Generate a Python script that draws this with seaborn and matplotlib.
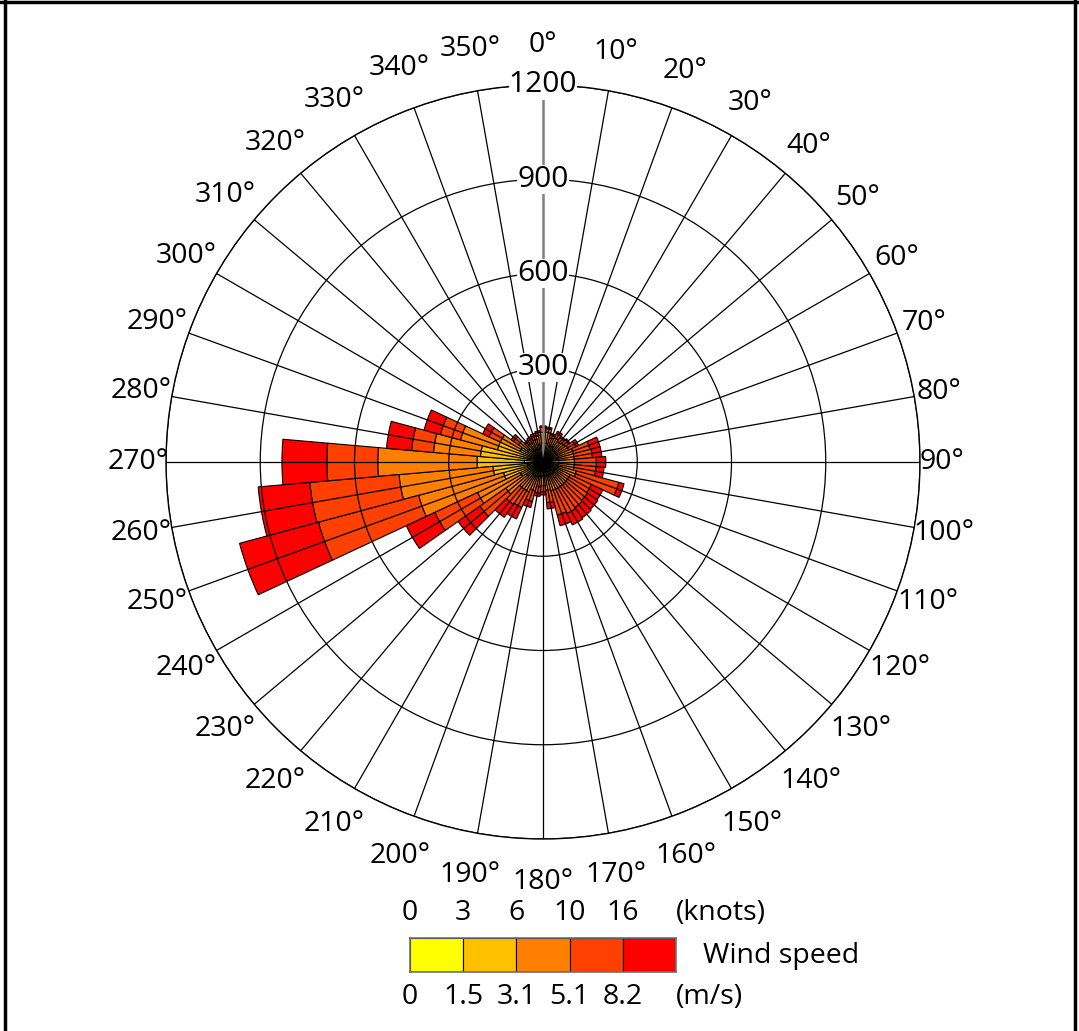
import numpy as np
import pandas as pd
import seaborn as sns
import matplotlib
matplotlib.use("Agg")
import matplotlib.pyplot as plt
from matplotlib.lines import Line2D

# ---------------- data ----------------
directions = list(range(0, 360, 10))
speed_bins = ["0-1.5", "1.5-3.1", "3.1-5.1", "5.1-8.2", ">8.2"]
bin_colors = ["#FFFF00", "#FFC000", "#FF8000", "#FF4000", "#FF0000"]
knots_labels = ["0", "3", "6", "10", "16"]
ms_labels = ["0", "1.5", "3.1", "5.1", "8.2"]

#          0   10  20  30  40  50  60  70  80  90 100 110 120 130 140 150 160 170
calm =    [25, 25, 25, 25, 20, 20, 20, 20, 20, 20, 20, 20, 20, 20, 20, 20, 20, 20,
           20, 20, 20, 20, 20, 25, 30, 40, 50, 60, 50, 40, 30, 25, 20, 20, 20, 25]
#          180 190 200 210 220 230 240 250 260 270 280 290 300 310 320 330 340 350
light =   [35, 35, 30, 30, 30, 30, 30, 30, 30, 30, 30, 30, 25, 25, 25, 25, 25, 25,
           25, 25, 30, 30, 30, 40, 50, 90, 110, 150, 150, 110, 50, 35, 25, 25, 25, 30]
moderate = [35, 35, 25, 30, 30, 35, 40, 50, 50, 50, 50, 60, 50, 50, 50, 50, 50, 45,
            30, 35, 45, 55, 55, 80, 150, 280, 300, 316, 150, 122, 70, 35, 25, 25, 30, 30]
fresh =   [15, 12, 10, 15, 15, 15, 25, 55, 58, 70, 70, 140, 75, 78, 82, 86, 80, 40,
           20, 20, 35, 55, 60, 100, 150, 330, 285, 162, 70, 66, 40, 19, 10, 12, 12, 10]
strong =  [5, 5, 5, 8, 5, 5, 10, 33, 30, 30, 25, 17, 40, 40, 40, 40, 35, 20,
           10, 10, 20, 40, 50, 85, 100, 260, 165, 143, 80, 54, 22, 10, 5, 8, 8, 5]

radial_ticks = [300, 600, 900, 1200]
angle_labels = [f"{d}°" for d in directions]

df = pd.DataFrame({"direction": directions, speed_bins[0]: calm, speed_bins[1]: light,
                   speed_bins[2]: moderate, speed_bins[3]: fresh, speed_bins[4]: strong})
long = df.melt(id_vars="direction", var_name="speed", value_name="count")

# ---------------- style ----------------
sns.set_style("white")
plt.rcParams["font.family"] = ["Open Sans", "DejaVu Sans"]
plt.rcParams["text.color"] = "black"
palette = sns.color_palette(bin_colors)

W, H = 1079, 1031
fig = plt.figure(figsize=(W / 100, H / 100), dpi=100)
cx, cy, R = 543, 462, 377
ax = fig.add_axes([(cx - R) / W, (H - cy - R) / H, 2 * R / W, 2 * R / H], projection="polar")
ax.set_theta_zero_location("N")
ax.set_theta_direction(-1)
ax.set_facecolor("white")

width = np.deg2rad(10)
bottom = np.zeros(len(directions))
theta = np.deg2rad(df["direction"].values)
for i, sb in enumerate(speed_bins):
    vals = long.loc[long["speed"] == sb, "count"].values
    ax.bar(theta, vals, width=width, bottom=bottom, color=palette[i],
           edgecolor="black", linewidth=0.8, align="center", zorder=1)
    bottom = bottom + vals

rmax = radial_ticks[-1]
ax.set_ylim(0, rmax)
ax.set_yticks(radial_ticks)
ax.set_yticklabels([])
ax.set_xticks(np.deg2rad(directions))
ax.set_xticklabels([])
ax.set_axisbelow(False)
ax.grid(True, color="black", linewidth=0.9)
for gl, d in zip(ax.xaxis.get_gridlines(), directions):
    if d == 0:
        gl.set_color("#808080")
        gl.set_linewidth(1.8)
ax.spines["polar"].set_color("black")
ax.spines["polar"].set_linewidth(1.0)
ax.tick_params(length=0)

FS = 20.5
for rt in radial_ticks:
    ax.text(0, rt, str(rt), ha="center", va="center", fontsize=21.5, zorder=6, color="black",
            bbox=dict(boxstyle="square,pad=0.0", facecolor="white", edgecolor="none"))

for d, lab in zip(directions, angle_labels):
    rad = np.deg2rad(d)
    if d >= 100:
        rpx = 405 + 15 * abs(np.cos(rad))
    else:
        rpx = 399 + 18 * abs(np.cos(rad))
    ax.text(rad, rpx / R * rmax, lab, ha="center", va="center", fontsize=FS,
            color="black", clip_on=False)

# ---------------- legend ----------------
lx0, lx1, ly0, ly1 = 410, 676, 938, 972
lax = fig.add_axes([lx0 / W, (H - ly1) / H, (lx1 - lx0) / W, (ly1 - ly0) / H])
lax.bar(np.arange(len(speed_bins)), np.ones(len(speed_bins)), width=1.0,
        color=palette, edgecolor="black", linewidth=0.8)
lax.set_xlim(-0.5, len(speed_bins) - 0.5)
lax.set_ylim(0, 1)
lax.set_xticks([]); lax.set_yticks([])
for s in lax.spines.values():
    s.set_color("#707070")
    s.set_linewidth(1.2)

bw = (lx1 - lx0) / len(speed_bins)
for i, (k, m) in enumerate(zip(knots_labels, ms_labels)):
    x = (lx0 + i * bw) / W
    fig.text(x, 1 - 913 / H, k, ha="center", va="center", fontsize=FS)
    fig.text(x, 1 - 997 / H, m, ha="center", va="center", fontsize=FS)
fig.text(676 / W, 1 - 913 / H, "(knots)", ha="left", va="center", fontsize=FS)
fig.text(676 / W, 1 - 997 / H, "(m/s)", ha="left", va="center", fontsize=FS)
fig.text(703 / W, 1 - 956 / H, "Wind speed", ha="left", va="center", fontsize=FS)

# ---------------- frame ----------------
fig.add_artist(Line2D([4.5 / W, 4.5 / W], [0, 1], color="black", linewidth=2.5))
fig.add_artist(Line2D([1075 / W, 1075 / W], [0, 1], color="black", linewidth=2.5))
fig.add_artist(Line2D([0, 1], [1 - 1.5 / H, 1 - 1.5 / H], color="black", linewidth=2.5))

fig.savefig("out.png", dpi=100, facecolor="white")
